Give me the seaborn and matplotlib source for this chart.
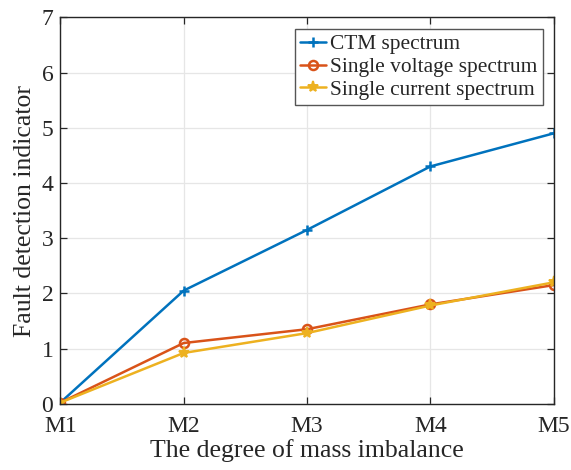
import matplotlib
matplotlib.use("Agg")
import matplotlib.pyplot as plt
import seaborn as sns
import pandas as pd

levels = ["M1", "M2", "M3", "M4", "M5"]
ctm = [0.02, 2.05, 3.15, 4.30, 4.90]
voltage = [0.02, 1.10, 1.35, 1.80, 2.15]
current = [0.02, 0.92, 1.28, 1.78, 2.20]
series_names = ["CTM spectrum", "Single voltage spectrum", "Single current spectrum"]
yticks = [0, 1, 2, 3, 4, 5, 6, 7]

sns.set_theme(style="whitegrid")
plt.rcParams["font.family"] = ["Liberation Serif", "DejaVu Serif"]

df = pd.DataFrame({
    "level": levels * 3,
    "x": list(range(len(levels))) * 3,
    "value": ctm + voltage + current,
    "series": [series_names[0]] * 5 + [series_names[1]] * 5 + [series_names[2]] * 5,
})

palette = {series_names[0]: "#0072BD", series_names[1]: "#D95319", series_names[2]: "#EDB120"}

fig = plt.figure(figsize=(5.71, 4.70), dpi=100)
ax = fig.add_axes([0.1056, 0.141, 0.8644, 0.822])

styles = {
    series_names[0]: dict(marker="+", ms=7, mew=1.8),
    series_names[1]: dict(marker="o", ms=6.5, mew=1.8, mfc="none"),
    series_names[2]: dict(marker="*", ms=8, mew=1.4),
}
for name in series_names:
    sub = df[df["series"] == name]
    sns.lineplot(data=sub, x="x", y="value", ax=ax, color=palette[name],
                 linewidth=1.8, label=name, mec=palette[name], **styles[name])

ax.set_xlim(0, 4)
ax.set_ylim(0, 7)
ax.set_xticks(range(len(levels)))
ax.set_xticklabels(levels)
ax.set_yticks(yticks)
ax.grid(True, color="#e6e6e6", linewidth=0.9)
for s in ax.spines.values():
    s.set_visible(True)
    s.set_color("#262626")
    s.set_linewidth(1.0)
ax.tick_params(axis="both", direction="in", length=5, width=0.9, color="#262626",
               labelsize=17, labelcolor="#262626", top=True, right=True,
               bottom=True, left=True)
ax.tick_params(axis="x", pad=9)
ax.tick_params(axis="y", pad=5)
ax.set_xlabel("The degree of mass imbalance", fontsize=18.5, color="#262626", labelpad=1)
ax.set_ylabel("Fault detection indicator", fontsize=18.5, color="#262626", labelpad=4)

leg = ax.legend(loc="upper right", bbox_to_anchor=(0.978, 0.9695), fontsize=15.4,
                frameon=True, fancybox=False, framealpha=1, edgecolor="#555555",
                handlelength=1.2, handletextpad=0.2, borderpad=0.25, labelspacing=0.12,
                borderaxespad=0.0)
leg.get_frame().set_linewidth(1.0)

fig.savefig("out.png", dpi=100)
